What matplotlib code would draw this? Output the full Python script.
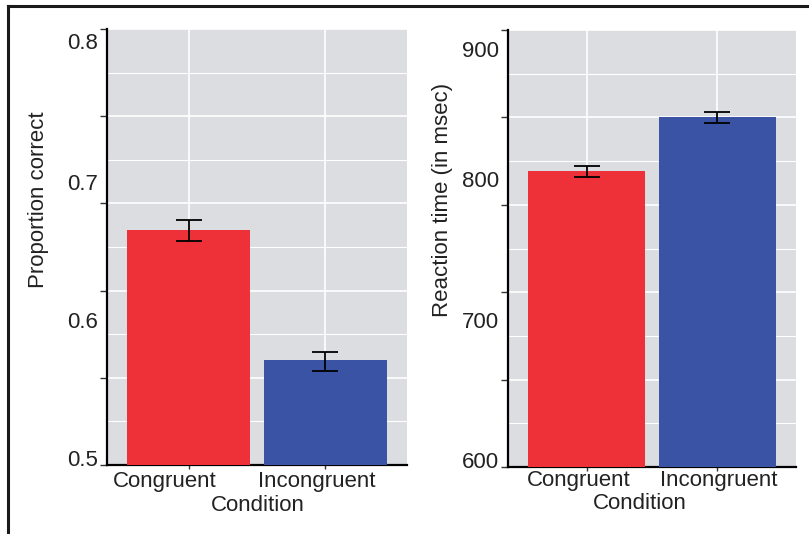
import matplotlib
matplotlib.use("Agg")
import matplotlib.pyplot as plt
from matplotlib.lines import Line2D
import matplotlib.transforms as mtransforms
import numpy as np

plt.rcParams['font.family'] = ['Liberation Sans', 'DejaVu Sans']

# ---- data ----
conditions = ["Congruent", "Incongruent"]
prop_correct = [0.6617, 0.5722]
prop_err_lo = [0.6541, 0.5647]
prop_err_hi = [0.6686, 0.5780]
rt_means = [803.2, 840.3]
rt_err_lo = [799.1, 836.2]
rt_err_hi = [806.6, 843.7]

left_ylim = (0.5, 0.8)
left_tick_labels = ["0.5", "0.6", "0.7", "0.8"]
left_tick_label_pos = [0.503, 0.598, 0.693, 0.790]
right_ylim = (600, 900)
right_tick_labels = ["600", "700", "800", "900"]
right_tick_label_pos = [603, 699, 796, 885]

left_cat_pos = [-0.18, 0.935]
right_cat_pos = [-0.06, 1.01]

colors = ["#ee3139", "#3a53a4"]
panel_bg = "#dcdde0"
text_col = "#222222"

W, H = 809, 534
fig = plt.figure(figsize=(W / 100, H / 100), dpi=100)


def px_axes(x0, y0, x1, y1):
    return fig.add_axes([x0 / W, 1 - y1 / H, (x1 - x0) / W, (y1 - y0) / H])


def draw_panel(ax, means, lo, hi, ylim, tlabels, tpos, catpos, ylabel, ylab_x,
               cat_y, cond_x, cond_y, ylab_size):
    x = np.arange(len(conditions))
    ax.set_facecolor(panel_bg)
    ax.bar(x, [m - ylim[0] for m in means], bottom=ylim[0], width=0.9,
           color=colors, zorder=3)
    yerr = np.array([[m - l for m, l in zip(means, lo)],
                     [h - m for m, h in zip(means, hi)]])
    ax.errorbar(x, means, yerr=yerr, fmt='none', ecolor='black',
                elinewidth=1.3, capsize=9.5, capthick=1.3, zorder=4)
    ax.set_xlim(-0.6, 1.6)
    ax.set_ylim(*ylim)
    major = np.linspace(ylim[0], ylim[1], 6)
    minor = (major[:-1] + major[1:]) / 2
    ax.set_yticks(major)
    ax.set_yticks(minor, minor=True)
    ax.set_yticklabels([])
    ax.set_xticks(x)
    ax.set_xticklabels([])
    ax.grid(True, which='major', color='white', linewidth=1.2, zorder=0)
    ax.grid(True, which='minor', axis='y', color='white', linewidth=0.8, zorder=0)
    ax.set_axisbelow(True)
    ax.tick_params(axis='y', which='major', length=5, width=1.0, color='#333333', direction='out')
    ax.tick_params(axis='y', which='minor', length=0)
    ax.tick_params(axis='x', length=3, width=1.0, color='#333333')
    for s in ['top', 'right']:
        ax.spines[s].set_visible(False)
    for s in ['left', 'bottom']:
        ax.spines[s].set_color('black')
        ax.spines[s].set_linewidth(1.6)
    trans = mtransforms.blended_transform_factory(ax.transAxes, ax.transData)
    for lab, p in zip(tlabels, tpos):
        ax.text(-0.03, p, lab, transform=trans, ha='right', va='center',
                fontsize=16, color=text_col)
    transx = mtransforms.blended_transform_factory(ax.transData, ax.transAxes)
    for lab, p in zip(conditions, catpos):
        ax.text(p, cat_y, lab, transform=transx, ha='center', va='center',
                fontsize=16, color=text_col)
    ax.text(cond_x, cond_y, "Condition", transform=ax.transAxes, ha='center',
            va='center', fontsize=16, color=text_col)
    fig.text(ylab_x / W, 1 - 200 / H, ylabel, rotation=90, ha='center', va='center',
             fontsize=ylab_size, color=text_col)


ax1 = px_axes(107, 29, 407, 465)
draw_panel(ax1, prop_correct, prop_err_lo, prop_err_hi, left_ylim,
           left_tick_labels, left_tick_label_pos, left_cat_pos,
           "Proportion correct", 39, -0.038, 0.503, -0.093, 16)

ax2 = px_axes(508, 30, 796, 467)
draw_panel(ax2, rt_means, rt_err_lo, rt_err_hi, right_ylim,
           right_tick_labels, right_tick_label_pos, right_cat_pos,
           "Reaction time (in msec)", 443, -0.032, 0.458, -0.084, 16)

# figure frame (top and left edges)
fig.add_artist(Line2D([8 / W, 1.0], [1 - 6 / H, 1 - 6 / H], color='#1a1a1a', linewidth=2.2,
                      transform=fig.transFigure))
fig.add_artist(Line2D([8 / W, 8 / W], [0.0, 1 - 6 / H], color='#1a1a1a', linewidth=2.2,
                      transform=fig.transFigure))

fig.savefig("out.png", dpi=100)
